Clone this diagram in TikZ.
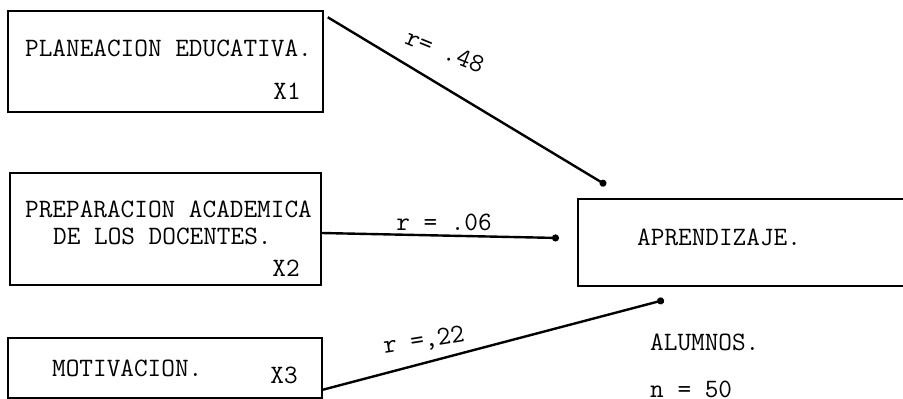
\documentclass[tikz,border=0pt]{standalone}
\usetikzlibrary{arrows.meta,positioning,calc}
\tikzset{
	varbox/.style={draw,line width=1.5pt,inner sep=0pt},
	typed/.style={font=\ttfamily\fontsize{26.5}{28}\selectfont,inner sep=0pt},
	link/.style={line width=2.4pt,-{Circle[length=7pt]}}
}
\begin{document}
\begin{tikzpicture}[x=1pt,y=-1pt]
	\useasboundingbox (0,0) rectangle (903,399);
	\clip (0,0) rectangle (903,399);
	
	% the three variables
	\node[varbox,minimum width=315pt,minimum height=101pt] (x1) at (165.5,61.5) {};
	\node[varbox,minimum width=311pt,minimum height=112pt] (x2) at (165.5,229) {};
	\node[varbox,minimum width=314pt,minimum height=60pt] (x3) at (165,368) {};
	\node[varbox,minimum width=342pt,minimum height=87pt] (y) at (749,242.5) {};
	
	\node[typed,anchor=west] (t1) at (25,48) {PLANEACION EDUCATIVA.};
	\node[typed] (n1) at (287,91) {X1};
	\node[typed,anchor=west] (t2a) at (25,209.5) {PREPARACION ACADEMICA};
	\node[typed,anchor=west] (t2b) at (53,236) {DE LOS DOCENTES.};
	\node[typed] (n2) at (286,268) {X2};
	\node[typed,anchor=west] (t3) at (52,368) {MOTIVACION.};
	\node[typed] (n3) at (284,375) {X3};
	\node[typed,anchor=west] (ty) at (637,237.5) {APRENDIZAJE.};
	
	\node[typed,anchor=west] (al) at (650,342) {ALUMNOS.};
	\node[typed,anchor=west] (nn) at (650,389) {n = 50};
	
	% arrows
	\coordinate (e1) at (606,185);
	\coordinate (e2) at (559,238);
	\coordinate (e3) at (664,300);
	\draw[link] ([shift={(4pt,-7pt)}]x1.north east) -- (e1);
	\draw[link] ([yshift=-4pt]x2.east) -- (e2);
	\draw[link] ([yshift=9pt]x3.south east) -- (e3);
	
	\node[typed,rotate=-22] (r1) at (445,51) {r= .48};
	\node[typed] (r2) at (444,222) {r = .06};
	\node[typed,rotate=9] (r3) at (424,341) {r =,22};
\end{tikzpicture}
\end{document}
